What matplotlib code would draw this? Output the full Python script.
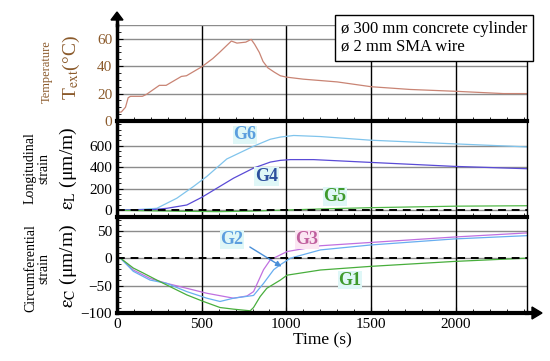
import matplotlib
matplotlib.use("Agg")
import matplotlib.pyplot as plt
from matplotlib.ticker import MultipleLocator

plt.rcParams['font.family'] = ['Liberation Serif', 'DejaVu Serif']
plt.rcParams['mathtext.fontset'] = 'stix'

# temperature (°C)
t_temp = [0, 25, 50, 66, 80, 150, 175, 250, 290, 380, 410, 500, 565, 605, 675, 708,
          760, 792, 812, 840, 862, 890, 930, 964, 1000, 1100, 1300, 1500, 1730, 2010, 2280, 2420]
temp = [6.5, 6.5, 10, 17, 18, 18, 19.5, 26, 26, 32.5, 33, 39.5, 45.5, 50, 58.3, 56.8,
        57.5, 59.5, 56, 50, 43.4, 38.8, 35.5, 33, 32, 30.5, 28.5, 25, 23, 21.6, 20, 20]

# longitudinal strain (um/m)
t_g6 = [0, 100, 235, 353, 451, 530, 648, 806, 905, 964, 1043, 1200, 1497, 1990, 2325, 2420]
g6 = [0, 2, 16, 110, 219, 313, 476, 595, 660, 680, 695, 685, 651, 617, 595, 588]
t_g4 = [0, 200, 294, 412, 501, 589, 688, 806, 905, 964, 1024, 1160, 1497, 1990, 2420]
g4 = [0, 2, 16, 47, 119, 203, 297, 391, 447, 463, 470, 470, 444, 407, 385]
t_g5 = [0, 100, 400, 600, 800, 1000, 1200, 1500, 2000, 2420]
g5 = [-3, -5, -12, -15, -10, 0, 10, 22, 36, 40]

# circumferential strain (um/m)
t_g3 = [20, 96, 195, 294, 412, 530, 688, 767, 806, 865, 905, 964, 1004, 1201, 1497, 1990, 2420]
g3 = [0, -21.5, -37, -46, -55, -64, -73, -69, -61, -21, -3, 6, 12, 22.6, 28.6, 38.5, 46]
t_g2 = [20, 96, 195, 294, 412, 530, 608, 688, 806, 865, 925, 964, 1024, 1201, 1497, 1990, 2420]
g2 = [0, -24, -40, -46, -61, -73, -79, -73, -68, -46, -21, -12, 0, 15, 24, 35, 41]
t_g1 = [20, 96, 154, 235, 333, 412, 510, 608, 688, 786, 806, 845, 884, 964, 1004, 1201, 1497, 1990, 2420]
g1 = [0, -18, -27, -40, -55, -67, -79, -90, -93, -96, -90, -70, -55, -40, -31, -21.6, -15, -6, 0]

W, H = 550, 361
fig = plt.figure(figsize=(5.5, 3.61), dpi=100)

def px(x0, y0, x1, y1):
    return [x0 / W, 1 - y1 / H, (x1 - x0) / W, (y1 - y0) / H]

ax1 = fig.add_axes(px(117, 25, 527, 121))
ax2 = fig.add_axes(px(117, 121, 527, 217))
ax3 = fig.add_axes(px(117, 217, 527, 313))

brown = '#8b5a2b'
grid_c = '#8c8c8c'

for ax in (ax1, ax2, ax3):
    ax.set_xlim(0, 2420)
    ax.spines['top'].set_visible(False)
    ax.spines['left'].set_linewidth(2.5)
    ax.spines['bottom'].set_linewidth(3)
    ax.spines['right'].set_linewidth(1)
    ax.xaxis.set_major_locator(MultipleLocator(500))
    ax.xaxis.set_minor_locator(MultipleLocator(100))
    ax.tick_params(which='both', direction='in', labelsize=11)
    ax.tick_params(which='major', length=4, width=0.8)
    ax.tick_params(which='minor', length=3, width=0.6)
    ax.grid(True, axis='y', color=grid_c, lw=1)
    for xv in [500, 1000, 1500, 2000]:
        ax.axvline(xv, color='black', lw=1, zorder=1)
    ax.set_axisbelow(True)
    ax.patch.set_alpha(0)

# top: temperature
ax1.plot(t_temp, temp, color='#c98474', lw=0.9)
ax1.set_ylim(0, 70)
ax1.set_yticks([0, 20, 40, 60])
ax1.yaxis.set_minor_locator(MultipleLocator(5))
ax1.axhline(70, color=grid_c, lw=1)
ax1.tick_params(axis='y', colors=brown, labelcolor=brown)
ax1.tick_params(axis='y', which='both', color='black')
ax1.tick_params(labelbottom=False)
ax1.spines['right'].set_bounds(0, 49)

# middle: longitudinal
ax2.plot(t_g6, g6, color='#80c4ec', lw=0.9)
ax2.plot(t_g4, g4, color='#5a4bd6', lw=0.9)
ax2.plot(t_g5, g5, color='#52b848', lw=0.9)
ax2.axhline(0, color='black', lw=1.4, ls=(0, (4, 3)))
ax2.set_ylim(-65, 830)
ax2.set_yticks([0, 200, 400, 600])
ax2.yaxis.set_minor_locator(MultipleLocator(50))
ax2.tick_params(labelbottom=False)

# bottom: circumferential
ax3.plot(t_g3, g3, color='#c070e0', lw=0.9)
ax3.plot(t_g2, g2, color='#68aef0', lw=0.9)
ax3.plot(t_g1, g1, color='#48ae3c', lw=0.9)
ax3.axhline(0, color='black', lw=1.4, ls=(0, (4, 3)))
ax3.set_ylim(-100, 75)
ax3.set_yticks([-100, -50, 0, 50])
ax3.set_yticklabels(['\u2212100', '\u221250', '0', '50'])
ax3.yaxis.set_minor_locator(MultipleLocator(10))
ax3.set_xticks([0, 500, 1000, 1500, 2000])
ax3.set_xlabel('Time (s)', fontsize=12.5, labelpad=1)

# curve labels
lab = dict(fontsize=13, fontweight='bold', ha='center', va='center')
cyan_bg = dict(boxstyle='square,pad=0.05', fc='#dff7f7', ec='none')
ax2.text(756, 700, 'G6', color='#5b9ede', bbox=cyan_bg, **lab)
ax2.text(884, 310, 'G4', color='#2d4f9e', bbox=cyan_bg, **lab)
ax2.text(1287, 124, 'G5', color='#3f9a2c', bbox=cyan_bg, **lab)
ax3.text(679, 34, 'G2', color='#5b9ede', bbox=cyan_bg, **lab)
ax3.text(1121, 34, 'G3', color='#c0609e',
         bbox=dict(boxstyle='square,pad=0.05', fc='#fbe6f2', ec='none'), **lab)
ax3.text(1375, -40, 'G1', color='#3f9a2c', bbox=cyan_bg, **lab)
ax3.annotate('', xy=(985, -18), xytext=(770, 23),
             arrowprops=dict(arrowstyle='-|>', color='#4a8fd8', lw=1, mutation_scale=8))

# axis arrows
fig.add_artist(plt.Line2D([117 / W, 117 / W], [1 - 25 / H, 1 - 16 / H], color='black', lw=2.5))
fig.patches.append(matplotlib.patches.FancyArrow(
    117 / W, 1 - 18 / H, 0, 6 / H, width=0.0005, head_width=12 / W, head_length=8 / H,
    length_includes_head=True, color='black', transform=fig.transFigure, figure=fig))
fig.add_artist(plt.Line2D([527 / W, 536 / W], [1 - 313 / H, 1 - 313 / H], color='black', lw=3))
fig.patches.append(matplotlib.patches.FancyArrow(
    534 / W, 1 - 313 / H, 8 / W, 0, width=0.0005, head_width=12 / H, head_length=10 / W,
    length_includes_head=True, color='black', transform=fig.transFigure, figure=fig))

# y labels
fig.text(47 / W, 1 - 72 / H, 'Temperature', rotation=90, ha='center', va='center',
         fontsize=9, color=brown)
fig.text(71 / W, 1 - 68 / H, r'T$_{\mathrm{ext}}$(°C)', rotation=90, ha='center', va='center',
         fontsize=14, color=brown)
fig.text(37 / W, 1 - 168 / H, 'Longitudinal\nstrain', rotation=90, ha='center', va='center',
         fontsize=10, linespacing=1.0)
fig.text(68 / W, 1 - 168 / H, r'$\mathrm{\varepsilon_L}$ (μm/m)', rotation=90, ha='center',
         va='center', fontsize=14)
fig.text(37 / W, 1 - 268 / H, 'Circumferential\nstrain', rotation=90, ha='center', va='center',
         fontsize=10, linespacing=1.0)
fig.text(68 / W, 1 - 266 / H, r'$\mathrm{\varepsilon_C}$ (μm/m)', rotation=90, ha='center',
         va='center', fontsize=14)

# info box
fig.text(341 / W, 1 - 38 / H, 'ø 300 mm concrete cylinder\nø 2 mm SMA wire', ha='left',
         va='center', fontsize=12, linespacing=1.15,
         bbox=dict(boxstyle='square,pad=0.35', fc='white', ec='black', lw=1))

fig.savefig('out.png', dpi=100)
